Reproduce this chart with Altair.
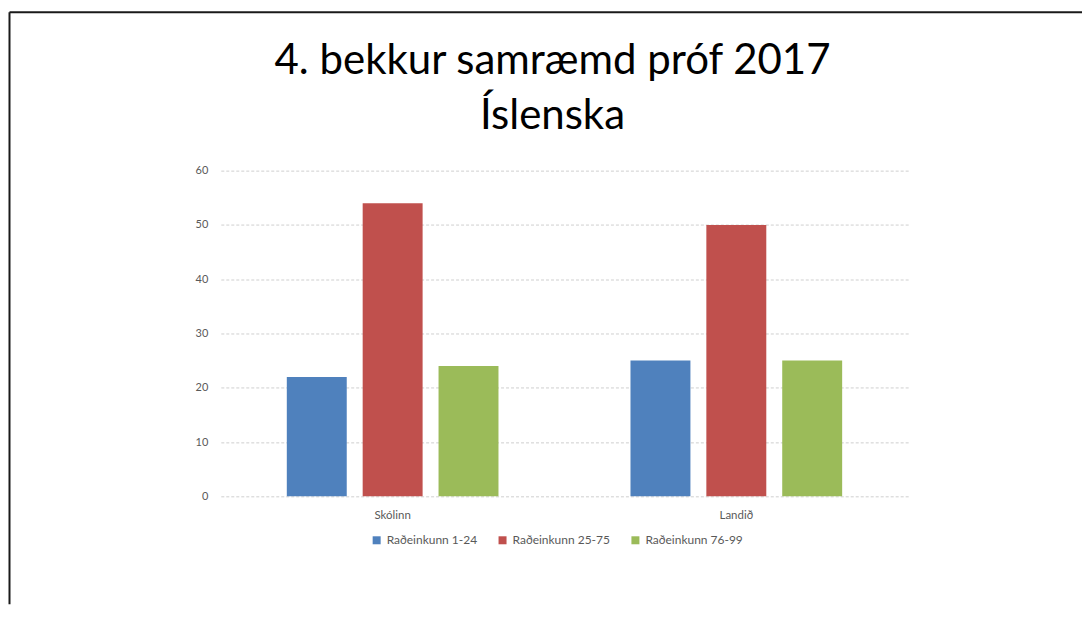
import altair as alt
import pandas as pd

categories = ["Skólinn", "Landið"]
series = ["Raðeinkunn 1-24", "Raðeinkunn 25-75", "Raðeinkunn 76-99"]
skolinn = [22, 54, 24]
landid = [25, 50, 25]
colors = ["#4F81BD", "#C0504D", "#9BBB59"]
y_ticks = [0, 10, 20, 30, 40, 50, 60]

rows = []
for cat, vals in zip(categories, [skolinn, landid]):
    for s, v in zip(series, vals):
        rows.append({"flokkur": cat, "rod": s, "gildi": v})
df = pd.DataFrame(rows)

FONT = "Lato"
GRAY = "#595959"

bars = alt.Chart(df).mark_bar().encode(
    x=alt.X("flokkur:N", sort=categories, title=None,
            scale=alt.Scale(paddingInner=0, paddingOuter=0),
            axis=alt.Axis(labelAngle=0, labelFont=FONT, labelFontSize=11.5, labelColor=GRAY,
                          domain=False, ticks=False, labelPadding=13)),
    xOffset=alt.XOffset("rod:N", sort=series,
                        scale=alt.Scale(paddingInner=0.21, paddingOuter=0.87)),
    y=alt.Y("gildi:Q", title=None,
            scale=alt.Scale(domain=[0, 60], nice=False),
            axis=alt.Axis(values=y_ticks, labelFont=FONT, labelFontSize=11, labelColor=GRAY,
                          domain=False, ticks=False, labelPadding=13,
                          grid=True, gridColor="#cfcfcf", gridDash=[3, 2], gridWidth=1)),
    color=alt.Color("rod:N", sort=series,
                    scale=alt.Scale(domain=series, range=colors),
                    legend=alt.Legend(title=None, orient="none", direction="horizontal",
                                      legendX=150, legendY=364,
                                      symbolType="square", symbolSize=64, symbolStrokeWidth=0,
                                      labelFont=FONT, labelFontSize=12, labelColor=GRAY,
                                      labelOffset=4, columnPadding=19, symbolOffset=0)),
)

one = pd.DataFrame({"a": [0]})
top_rule = alt.Chart(one).mark_rule(color="#1a1a1a", strokeWidth=2).encode(
    x=alt.value(-211.5), x2=alt.value(862), y=alt.value(-158.5))
left_rule = alt.Chart(one).mark_rule(color="#1a1a1a", strokeWidth=2).encode(
    x=alt.value(-211.5), y=alt.value(-158.5), y2=alt.value(434))

chart = alt.layer(bars, top_rule, left_rule).properties(
    width=688, height=326,
    padding={"top": 2.5, "left": 0, "right": 0, "bottom": 0},
    background="white",
    title=alt.TitleParams(text=["4. bekkur samræmd próf 2017", "Íslenska"],
                          font=FONT, fontSize=42, fontWeight="normal", color="black",
                          lineHeight=55, anchor="middle", dx=-12, offset=-127),
).configure_view(stroke=None)

chart.save("out.html", embed_options={"renderer": "svg", "actions": False})
